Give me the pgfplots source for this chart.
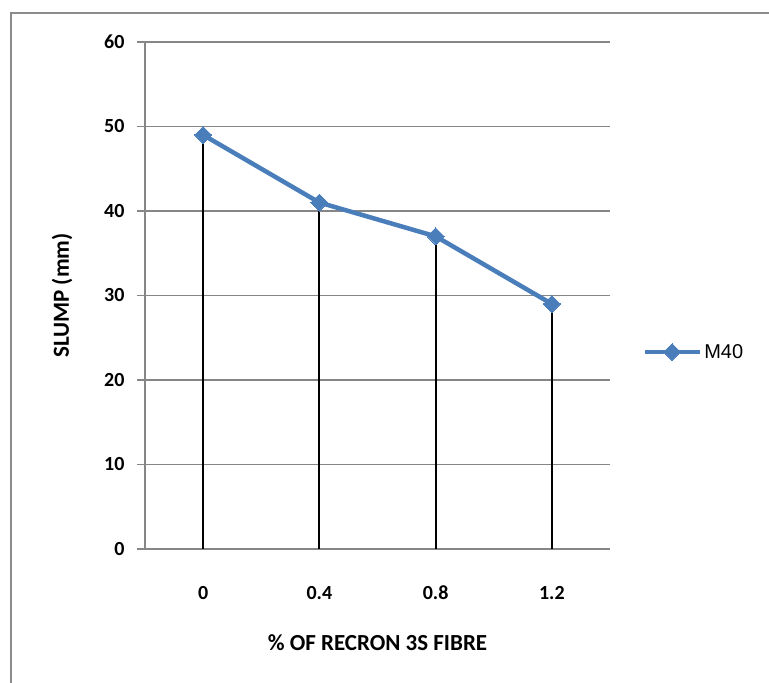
\documentclass[border=0pt]{standalone}
\usepackage{pgfplots}
\pgfplotsset{compat=1.18}
\usepackage{fontspec}
\setmainfont{Carlito}
\newfontfamily\legfont{Liberation Sans}

\definecolor{serieblue}{HTML}{4A7EBB}
\definecolor{gridgray}{HTML}{868686}
\definecolor{framegray}{HTML}{8C8C8C}

\begin{document}
\begin{tikzpicture}[x=1bp,y=1bp]
  \path[use as bounding box] (0,0) rectangle (769,683);
  % chart area frame (top and left edges)
  \draw[framegray, line width=1.8bp] (11,-5) -- (11,670) -- (775,670);

  \begin{axis}[
    at={(145bp,134bp)}, anchor=south west,
    scale only axis, width=465bp, height=507bp,
    xmin=-0.5, xmax=3.5, ymin=0, ymax=60,
    xtick={0,1,2,3}, xticklabels={0,0.4,0.8,1.2},
    ytick={0,10,...,60},
    axis lines*=left,
    axis line style={-, draw=gridgray, line width=1.6bp},
    ymajorgrids,
    grid style={draw=gridgray, line width=1.6bp},
    tick align=outside, major tick length=8bp,
    ytick style={draw=gridgray, line width=1.6bp},
    xtick style={draw=none},
    /pgf/number format/assume math mode=true,
    ticklabel style={font=\bfseries\fontsize{20bp}{24bp}\selectfont},
    yticklabel style={xshift=-9bp},
    xticklabel style={anchor=center, yshift=-36bp},
    xlabel={\% OF RECRON 3S FIBRE},
    ylabel={SLUMP (mm)},
    label style={font=\bfseries\fontsize{23bp}{27bp}\selectfont},
    xlabel style={at={(axis description cs:0.5,-0.1854)}, anchor=center},
    ylabel style={at={(axis description cs:-0.1785,0.5)}, anchor=center},
    legend style={at={(axis description cs:1.07,0.3886)}, anchor=west,
      draw=none, fill=none, font=\legfont\fontsize{20bp}{24bp}\selectfont,
      inner sep=0pt},
    legend cell align=left,
    legend image code/.code={%
      \draw[#1, mark repeat=2, mark phase=2]
        plot coordinates {(0bp,0bp) (27bp,0bp) (55bp,0bp)};},
  ]
    % drop lines from each point to the axis
    \addplot[ycomb, black, line width=2bp, forget plot] coordinates {
      (0,49) (1,41) (2,37) (3,29)
    };
    \addplot[serieblue, line width=4.5bp, mark=square*, mark size=6bp,
      mark options={rotate=45, line width=0pt}] coordinates {
      (0,49) (1,41) (2,37) (3,29)
    };
    \addlegendentry{M40}
  \end{axis}
\end{tikzpicture}
\end{document}
